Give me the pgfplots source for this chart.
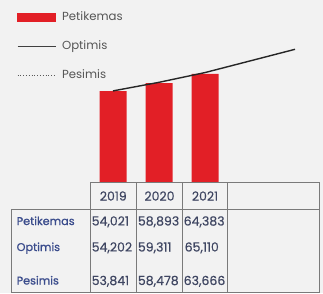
\documentclass[border=0pt]{standalone}
\usepackage{pgfplots}
\pgfplotsset{compat=1.18}
\usepackage{fontspec}
\setmainfont{Poppins}
\newfontfamily\popmed{Poppins}[FakeBold=0.9]
\newfontfamily\popval{Poppins}[FakeBold=0.35]
\definecolor{bg}{HTML}{F2F2F2}
\definecolor{barred}{HTML}{E21F26}
\definecolor{legtext}{HTML}{555555}
\definecolor{valtext}{HTML}{3F4662}
\definecolor{rowtext}{HTML}{3A4C8C}
\definecolor{grid}{HTML}{7A7A7A}
\begin{document}
\begin{tikzpicture}[x=1pt,y=1pt]
\fill[bg] (0,0) rectangle (323,293);
\begin{axis}[
  at={(90pt,111pt)}, anchor=south west,
  scale only axis, width=229pt, height=182pt,
  xmin=-0.5, xmax=4.478, ymin=0, ymax=108290,
  axis lines=none, clip=false,
  legend style={at={(axis description cs:-0.3188,0.935)}, anchor=north west,
    draw=none, fill=none, inner sep=0pt, outer sep=0pt,
    row sep=18.5pt, column sep=6pt,
    font=\fontsize{11.7}{13}\selectfont, text=legtext,
    nodes={inner sep=0pt, text height=8.5pt, text depth=2pt}},
  legend cell align=left,
]
\addlegendimage{legend image code/.code={\fill[barred] (0pt,-3.8pt) rectangle (38pt,3.8pt);}}
\addlegendimage{legend image code/.code={\draw[black!75, line width=1.1pt] (0pt,0pt) -- (38pt,0pt);}}
\addlegendimage{legend image code/.code={\draw[black!65, line width=0.8pt, dotted] (0pt,0pt) -- (38pt,0pt);}}
\legend{Petikemas, Optimis, Pesimis}
\addplot[ybar, bar width=27pt, bar shift=0pt, fill=barred, draw=none, forget plot]
  coordinates {(0,54021) (1,58893) (2,64383)};
\addplot[black!85, line width=1.4pt, forget plot]
  coordinates {(0,54202) (1,59311) (2,65110) (3.957,78956)};
\end{axis}
% table
\draw[grid, line width=0.9pt] (90,84) rectangle (319,111);
\draw[grid, line width=0.9pt] (11,1) rectangle (319,84);
\foreach \xx in {90,136.5,182.5,227.5} \draw[grid, line width=0.9pt] (\xx,1) -- (\xx,111);
\begin{scope}[every node/.style={inner sep=0pt, text=valtext, font=\popval\fontsize{12.5}{14}\selectfont}]
\node at (113.3,97) {2019};
\node at (159.5,97) {2020};
\node at (205,97) {2021};
\node[anchor=base west] at (91.5,67.5) {54,021};
\node[anchor=base west] at (137.7,67.5) {58,893};
\node[anchor=base west] at (183.5,67.5) {64,383};
\node[anchor=base west] at (91.5,41.5) {54,202};
\node[anchor=base west] at (137.7,41.5) {59,311};
\node[anchor=base west] at (184.5,41.5) {65,110};
\node[anchor=base west] at (91.5,8) {53,841};
\node[anchor=base west] at (137.7,8) {58,478};
\node[anchor=base west] at (183.5,8) {63,666};
\end{scope}
\begin{scope}[every node/.style={inner sep=0pt, anchor=base west, text=rowtext, font=\popmed\fontsize{11.2}{13}\selectfont}]
\node at (16.5,68) {Petikemas};
\node at (16.5,42) {Optimis};
\node at (16.5,8.5) {Pesimis};
\end{scope}
\end{tikzpicture}
\end{document}
